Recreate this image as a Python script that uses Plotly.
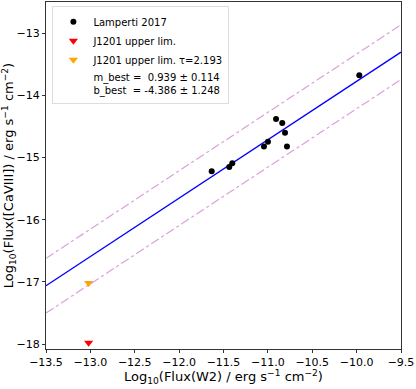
import numpy as np
import plotly.graph_objects as go

# Data
lamperti_x = [-11.633, -11.435, -11.401, -10.908, -10.838, -10.807, -11.044, -10.999, -10.785, -9.970]
lamperti_y = [-15.220, -15.154, -15.095, -14.381, -14.444, -14.603, -14.825, -14.746, -14.825, -13.678]
j1201_x = [-13.02]
j1201_y = [-17.98]
j1201_tau_x = [-13.02]
j1201_tau_y = [-17.02]
m_best, m_err = 0.939, 0.114
b_best, b_err = -4.386, 1.248
scatter_off = 0.44
x_fit = [-13.5, -9.5]
x_ticks = [-13.5, -13.0, -12.5, -12.0, -11.5, -11.0, -10.5, -10.0, -9.5]
y_ticks = [-18, -17, -16, -15, -14, -13]

xf = np.array(x_fit)
yf = m_best * xf + b_best

fig = go.Figure()
fig.add_trace(go.Scatter(x=xf, y=yf, mode="lines", line=dict(color="blue", width=1.3), showlegend=False))
fig.add_trace(go.Scatter(x=xf, y=yf + scatter_off, mode="lines",
                         line=dict(color="rgba(191,80,191,0.55)", width=1.2, dash="dashdot"), showlegend=False))
fig.add_trace(go.Scatter(x=xf, y=yf - scatter_off, mode="lines",
                         line=dict(color="rgba(191,80,191,0.55)", width=1.2, dash="dashdot"), showlegend=False))
fig.add_trace(go.Scatter(x=lamperti_x, y=lamperti_y, mode="markers", name="Lamperti 2017",
                         marker=dict(color="black", size=6)))
fig.add_trace(go.Scatter(x=j1201_x, y=j1201_y, mode="markers", name="J1201 upper lim.",
                         marker=dict(color="red", size=8, symbol="triangle-down")))
fig.add_trace(go.Scatter(x=j1201_tau_x, y=j1201_tau_y, mode="markers", name="J1201 upper lim. τ=2.193",
                         marker=dict(color="orange", size=8, symbol="triangle-down")))
fig.add_trace(go.Scatter(x=[None], y=[None], mode="markers",
                         name=f"m_best =  {m_best:.3f} ± {m_err:.3f}<br>b_best  = {b_best:.3f} ± {b_err:.3f}",
                         marker=dict(color="rgba(0,0,0,0)", size=1)))

axis_common = dict(showline=True, linecolor="#333", linewidth=1, mirror=True,
                   ticks="outside", ticklen=3, tickcolor="#333", showgrid=False, zeroline=False,
                   tickfont=dict(size=11, color="black"), automargin=False)
m_b = 40
plot_h = 389 - 2 - m_b
fig.update_layout(
    width=416, height=389,
    margin=dict(l=46, r=15, t=2, b=m_b),
    paper_bgcolor="white", plot_bgcolor="white",
    font=dict(family="DejaVu Sans", color="black"),
    xaxis=dict(range=[-13.5, -9.5], tickvals=x_ticks, ticktext=[f"−{abs(v):.1f}" for v in x_ticks],
               **axis_common),
    yaxis=dict(range=[-18.08, -12.5], tickvals=y_ticks, ticktext=[f"−{abs(v)}" for v in y_ticks],
               title=dict(text="Log<sub>10</sub>(Flux([CaVIII]) / erg s<sup>−1</sup> cm<sup>−2</sup>)",
                          font=dict(size=13), standoff=4), **axis_common),
    legend=dict(x=0.018, y=0.988, xanchor="left", yanchor="top", bgcolor="white",
                bordercolor="#ddd", borderwidth=1, font=dict(size=10), itemwidth=30,
                tracegroupgap=0),
    annotations=[dict(text="Log<sub>10</sub>(Flux(W2) / erg s<sup>−1</sup> cm<sup>−2</sup>)",
                      xref="paper", yref="paper", x=0.5, y=-(m_b - 1) / plot_h,
                      xanchor="center", yanchor="bottom", showarrow=False,
                      font=dict(size=13))],
)
fig.write_html("out.html", config={"displayModeBar": False},
               post_script="document.body.style.margin='0';")
